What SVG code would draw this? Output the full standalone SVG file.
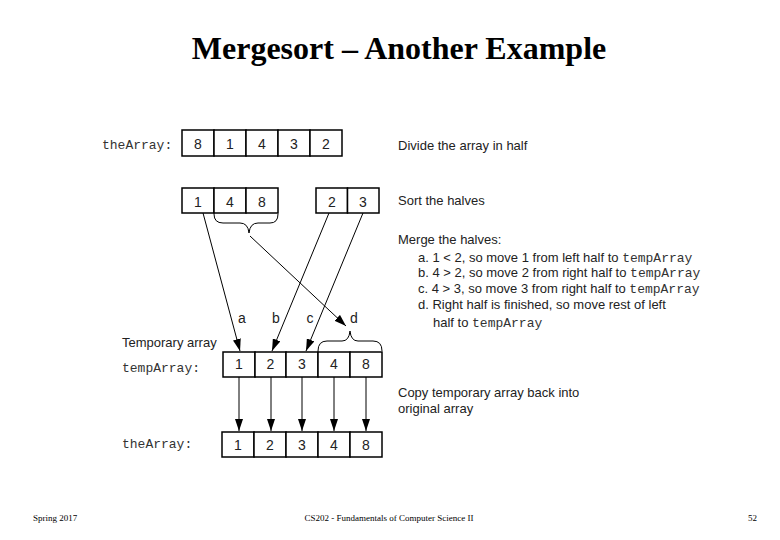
<svg xmlns="http://www.w3.org/2000/svg" width="780" height="540" viewBox="0 0 780 540">
<style>
.bg{fill:#fff}
.cell{fill:#fff;stroke:#000;stroke-width:1.5}
.num{font-family:"Liberation Sans",Arial,sans-serif;font-size:14px;fill:#222;text-anchor:middle}
.mono{font-family:"Liberation Mono","Courier New",monospace;font-size:13px;fill:#333}
.sans{font-family:"Liberation Sans",Arial,sans-serif;font-size:13px;fill:#222}
.conn{fill:none;stroke:#000;stroke-width:1}
.brace{fill:none;stroke:#000;stroke-width:1}
.title{font-family:"Liberation Serif","Times New Roman",serif;font-weight:bold;font-size:32px;fill:#000;text-anchor:middle}
.foot{font-family:"Liberation Serif","Times New Roman",serif;font-size:9px;fill:#000}
</style>
<defs>
<marker id="ah" markerUnits="userSpaceOnUse" markerWidth="12" markerHeight="8" refX="12" refY="4" orient="auto" viewBox="0 0 12 8">
<path d="M0,0 L12,4 L0,8 z" fill="#000"/>
</marker>
</defs>
<rect class="bg" x="0" y="0" width="780" height="540"/>

<text class="title" x="399" y="59">Mergesort – Another Example</text>

<g id="theArray-initial">
<text class="mono" x="102" y="149">theArray:</text>
<rect class="cell" x="182" y="130" width="32" height="26"/>
<rect class="cell" x="214" y="130" width="32" height="26"/>
<rect class="cell" x="246" y="130" width="32" height="26"/>
<rect class="cell" x="278" y="130" width="32" height="26"/>
<rect class="cell" x="310" y="130" width="32" height="26"/>
<text class="num" x="198" y="149">8</text>
<text class="num" x="230" y="149">1</text>
<text class="num" x="262" y="149">4</text>
<text class="num" x="294" y="149">3</text>
<text class="num" x="326" y="149">2</text>
</g>

<g id="left-half">
<rect class="cell" x="182" y="188" width="32" height="25"/>
<rect class="cell" x="214" y="188" width="32" height="25"/>
<rect class="cell" x="246" y="188" width="32" height="25"/>
<text class="num" x="198" y="207">1</text>
<text class="num" x="230" y="207">4</text>
<text class="num" x="262" y="207">8</text>
<path class="brace" d="M214,214 Q214,223 223,223 L240,223 Q248,223 249,233 Q250,223 258,223 L270,223 Q278,223 278,214"/>
</g>

<g id="right-half">
<rect class="cell" x="316" y="188" width="31.5" height="25"/>
<rect class="cell" x="347.5" y="188" width="31.5" height="25"/>
<text class="num" x="332" y="207">2</text>
<text class="num" x="363" y="207">3</text>
</g>

<g id="tempArray">
<text class="sans" x="122" y="347">Temporary array</text>
<text class="mono" x="122" y="372">tempArray:</text>
<rect class="cell" x="223" y="352" width="32" height="25"/>
<rect class="cell" x="255" y="352" width="31" height="25"/>
<rect class="cell" x="286" y="352" width="32" height="25"/>
<rect class="cell" x="318" y="352" width="32" height="25"/>
<rect class="cell" x="350" y="352" width="32" height="25"/>
<text class="num" x="239" y="369">1</text>
<text class="num" x="270.5" y="369">2</text>
<text class="num" x="302" y="369">3</text>
<text class="num" x="334" y="369">4</text>
<text class="num" x="366" y="369">8</text>
<path class="brace" d="M318,351 Q318,341 327,341 L342,341 Q349,341 350,331 Q351,341 358,341 L373,341 Q382,341 382,351"/>
</g>

<g id="theArray-final">
<text class="mono" x="122" y="448">theArray:</text>
<rect class="cell" x="222" y="432" width="32" height="25"/>
<rect class="cell" x="254" y="432" width="32" height="25"/>
<rect class="cell" x="286" y="432" width="32" height="25"/>
<rect class="cell" x="318" y="432" width="32" height="25"/>
<rect class="cell" x="350" y="432" width="32" height="25"/>
<text class="num" x="238" y="450">1</text>
<text class="num" x="270" y="450">2</text>
<text class="num" x="302" y="450">3</text>
<text class="num" x="334" y="450">4</text>
<text class="num" x="366" y="450">8</text>
</g>

<g id="connectors">
<line class="conn" x1="203" y1="213" x2="240" y2="351" marker-end="url(#ah)"/>
<line class="conn" x1="329" y1="213" x2="272" y2="351" marker-end="url(#ah)"/>
<line class="conn" x1="363" y1="213" x2="306" y2="351" marker-end="url(#ah)"/>
<line class="conn" x1="250" y1="236" x2="346" y2="326" marker-end="url(#ah)"/>
<line class="conn" x1="239" y1="377" x2="239" y2="431" marker-end="url(#ah)"/>
<line class="conn" x1="271" y1="377" x2="271" y2="431" marker-end="url(#ah)"/>
<line class="conn" x1="302" y1="377" x2="302" y2="431" marker-end="url(#ah)"/>
<line class="conn" x1="334" y1="377" x2="334" y2="431" marker-end="url(#ah)"/>
<line class="conn" x1="366" y1="377" x2="366" y2="431" marker-end="url(#ah)"/>
</g>

<g id="step-labels">
<text class="num" x="242" y="323">a</text>
<text class="num" x="276" y="323">b</text>
<text class="num" x="310" y="323">c</text>
<text class="num" x="354" y="323">d</text>
</g>

<g id="descriptions">
<text class="sans" x="398" y="150">Divide the array in half</text>
<text class="sans" x="398" y="205">Sort the halves</text>
<text class="sans" x="398" y="244">Merge the halves:</text>
<text class="sans" x="418" y="262">a. 1 &lt; 2, so move 1 from left half to <tspan class="mono">tempArray</tspan></text>
<text class="sans" x="418" y="277">b. 4 &gt; 2, so move 2 from right half to <tspan class="mono">tempArray</tspan></text>
<text class="sans" x="418" y="293">c. 4 &gt; 3, so move 3 from right half to <tspan class="mono">tempArray</tspan></text>
<text class="sans" x="418" y="309">d. Right half is finished, so move rest of left</text>
<text class="sans" x="433" y="327">half to <tspan class="mono">tempArray</tspan></text>
<text class="sans" x="398" y="397">Copy temporary array back into</text>
<text class="sans" x="398" y="413">original array</text>
</g>

<g id="footer">
<text class="foot" x="33" y="521">Spring 2017</text>
<text class="foot" x="389" y="521" text-anchor="middle">CS202 - Fundamentals of Computer Science II</text>
<text class="foot" x="757" y="521" text-anchor="end">52</text>
</g>
</svg>
